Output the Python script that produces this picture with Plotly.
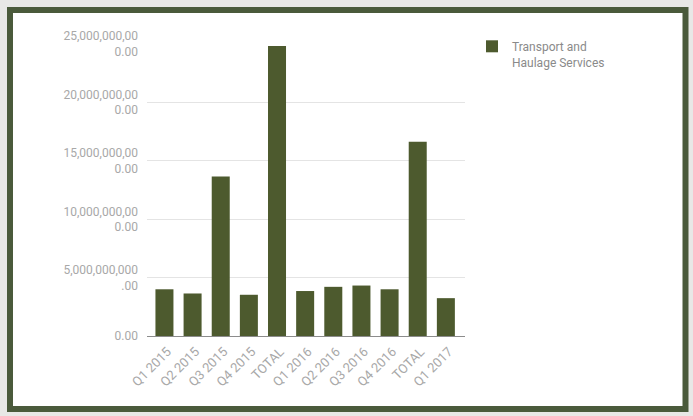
import plotly.graph_objects as go

categories = ["Q1 2015", "Q2 2015", "Q3 2015", "Q4 2015", "TOTAL",
              "Q1 2016", "Q2 2016", "Q3 2016", "Q4 2016", "TOTAL", "Q1 2017"]
values = [4.00e9, 3.64e9, 13.66e9, 3.53e9, 24.83e9,
          3.85e9, 4.21e9, 4.32e9, 4.00e9, 16.63e9, 3.24e9]
series_name = "Transport and<br>Haulage Services"
y_tick_vals = [0, 5e9, 10e9, 15e9, 20e9, 25e9]
y_tick_text = ["0.00", "5,000,000,000<br>.00", "10,000,000,00<br>0.00",
               "15,000,000,00<br>0.00", "20,000,000,00<br>0.00", "25,000,000,00<br>0.00"]

W, H = 693, 416
L, R, T, B = 147, 228, 44, 80
PW, PH = W - L - R, H - T - B

def px_x(px):
    return (px - L) / PW

def px_y(py):
    return (H - B - py) / PH

x_idx = list(range(len(categories)))

fig = go.Figure()
fig.add_trace(go.Bar(
    x=x_idx, y=values, name=series_name,
    marker=dict(color="#4d5a2e", line=dict(width=0)),
    showlegend=True,
))

fig.update_layout(
    width=W, height=H,
    margin=dict(l=L, r=R, t=T, b=B),
    paper_bgcolor="#e8e8e6",
    plot_bgcolor="rgba(0,0,0,0)",
    font=dict(family="Roboto, Arial, sans-serif", color="#a0a0a0"),
    bargap=0.36,
    showlegend=True,
    legend=dict(
        x=px_x(472), y=px_y(32), xanchor="left", yanchor="top",
        font=dict(size=12, color="#8a8a8a"),
        valign="top", bgcolor="rgba(0,0,0,0)",
        tracegroupgap=0,
    ),
    shapes=[dict(
        type="rect", xref="paper", yref="paper", layer="below",
        x0=px_x(10), x1=px_x(685.5), y0=px_y(409), y1=px_y(10),
        line=dict(color="#4a5a3b", width=6), fillcolor="#ffffff",
    )],
)

fig.update_xaxes(
    tickmode="array", tickvals=x_idx, ticktext=categories,
    tickangle=-45, tickfont=dict(size=13, color="#a8a8a8"),
    range=[-0.62, 10.68],
    showgrid=False, zeroline=False,
    showline=True, linecolor="#8c8c8c", linewidth=1,
    ticks="", ticklabelshift=3, ticklabelstandoff=2,
)
fig.update_yaxes(
    tickmode="array", tickvals=y_tick_vals, ticktext=y_tick_text,
    tickfont=dict(size=12, color="#a8a8a8"),
    range=[0, 25e9],
    showgrid=True, gridcolor="#e4e4e4", gridwidth=1,
    zeroline=False, showline=False, ticks="",
    ticklabelstandoff=8,
)

fig.write_html("out.html", config={"displayModeBar": False},
               post_script="document.body.style.margin='0';document.body.style.overflow='hidden';")
